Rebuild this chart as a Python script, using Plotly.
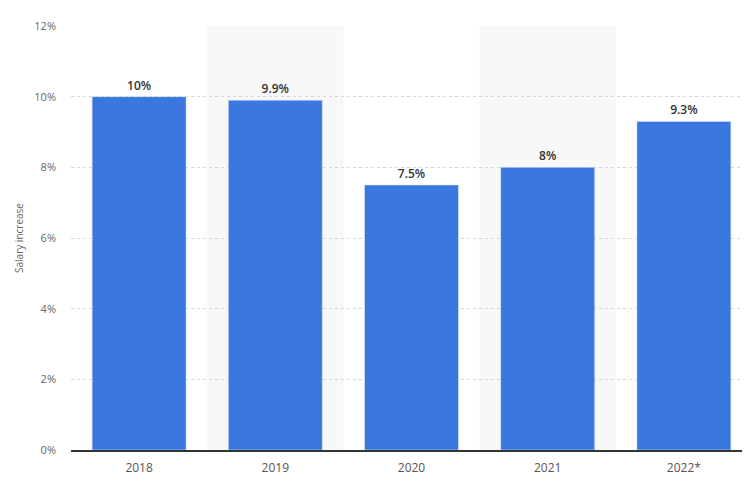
import plotly.graph_objects as go

years = ['2018', '2019', '2020', '2021', '2022*']
salary_increase = [10, 9.9, 7.5, 8, 9.3]
bar_labels = ['10%', '9.9%', '7.5%', '8%', '9.3%']
y_ticks = [0, 2, 4, 6, 8, 10, 12]

fig = go.Figure()
fig.add_trace(go.Bar(
    x=years,
    y=salary_increase,
    text=bar_labels,
    textposition='outside',
    textfont=dict(family='Open Sans', size=12, color='#333333', weight=600),
    marker_color='#3a77df',
    width=0.69,
    cliponaxis=False,
    hoverinfo='x+y'
))

# light bands behind every second category
for i in range(1, len(years), 2):
    fig.add_shape(type='rect', xref='x', yref='paper',
                  x0=i - 0.5, x1=i + 0.5, y0=0, y1=1,
                  fillcolor='#f8f8f8', line_width=0, layer='below')

fig.update_layout({'plot_bgcolor': '#FFFFFF', 'paper_bgcolor': '#FFFFFF'},
                  width=750, height=492,
                  margin=dict(l=63, r=6, t=18, b=50),
                  font_family='Open Sans',
                  font_color='#666666',
                  font_size=11,
                  showlegend=False)
fig.update_yaxes(range=[0, 12],
                 automargin=False,
                 tickvals=y_ticks,
                 ticktext=[f'{v}%' for v in y_ticks],
                 showgrid=True, gridcolor='#d3d6dc', griddash='dot', gridwidth=1,
                 zeroline=False,
                 ticks='', ticklabelstandoff=14,
                 tickfont=dict(size=11, color='#666666'),
                 title_text='Salary increase',
                 title_font=dict(size=10, color='#666666'),
                 title_standoff=8)
fig.update_xaxes(showline=True, linecolor='#333333', linewidth=2,
                 automargin=False,
                 ticks='', ticklabelstandoff=6,
                 tickfont=dict(size=12, color='#555555'),
                 range=[-0.5, 4.5])

fig.write_html("out.html")
